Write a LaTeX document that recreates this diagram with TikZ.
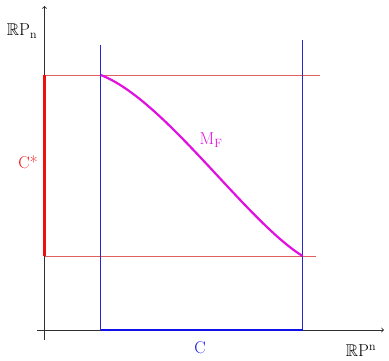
\documentclass[tikz,border=0pt]{standalone}
\usepackage{amssymb}
\usepackage{xcolor,tikz}
\usetikzlibrary{positioning,calc}
\definecolor{mapRedLine}{HTML}{E06060}
\definecolor{mapRedBar}{HTML}{F01010}
\definecolor{mapBlueLine}{HTML}{2828D0}
\definecolor{mapBlueBar}{HTML}{1010E8}
\definecolor{mapMagenta}{HTML}{E010E0}
\definecolor{mapAxis}{HTML}{303030}

\begin{document}
\begin{tikzpicture}[x=1pt,y=-1pt,
  axisline/.style={mapAxis, line width=0.9pt, ->},
  redline/.style={mapRedLine, line width=0.9pt},
  blueline/.style={draw=mapBlueLine, line width=1.1pt},
  lbl/.style={inner sep=0pt, font=\fontsize{17}{19}\selectfont}]

% --- PARAMETERS ---
\def\xO{44.5}   % y-axis position
\def\yO{330}    % x-axis position
\def\xL{100.8}  % left edge of C
\def\xR{302.5}  % right edge of C
\def\yT{75}     % top of C*
\def\yB{256}    % bottom of C*

\useasboundingbox (0,0) rectangle (389,361);

% --- AXES ---
\coordinate (yfoot) at (\xO,340);
\coordinate (ytop)  at (\xO,6);
\coordinate (xfoot) at (37,\yO);
\coordinate (xtop)  at (384,\yO);
\draw[axisline] (yfoot) -- (ytop);
\draw[axisline] (xfoot) -- (xtop);
\node[lbl, anchor=center] (rpn) at (22,31) {$\mathbb{R}\mathrm{P}_{\mathrm{n}}$};
\node[lbl, anchor=center] (rpup) at (361,351) {$\mathbb{R}\mathrm{P}^{\mathrm{n}}$};

% --- GUIDES ---
\coordinate (cl) at (\xL,\yO);
\coordinate (cr) at (\xR,\yO);
\coordinate (clt) at (\xL,45);
\coordinate (crt) at (\xR,40);
\coordinate (st) at (\xO,\yT);
\coordinate (sb) at (\xO,\yB);
\coordinate (stE) at (320,\yT);
\coordinate (sbE) at (316,\yB);
\draw[redline] (st) -- (stE);
\draw[redline] (sb) -- (sbE);
\draw[blueline] (crt) -- (cr) (clt) -- (cl);

% --- INTERVALS ---
\draw[mapRedBar, line width=2.8pt] (st) -- (sb);
\draw[mapBlueBar, line width=2.8pt] (cl) -- (cr);
\node[lbl, mapRedBar] (cstar) at (28,162) {C*};
\node[lbl, mapBlueBar] (cname) at (200,348) {C};

% --- GRAPH OF F ---
\coordinate (mstart) at (\xL,\yT);
\coordinate (mend)   at (\xR,\yB);
\draw[mapMagenta, line width=2.2pt]
  (mstart) .. controls (165,100) and (245,220) .. (mend);
\node[lbl, mapMagenta] (mf) at (211,140) {$\mathrm{M}_{\mathrm{F}}$};

\end{tikzpicture}
\end{document}
